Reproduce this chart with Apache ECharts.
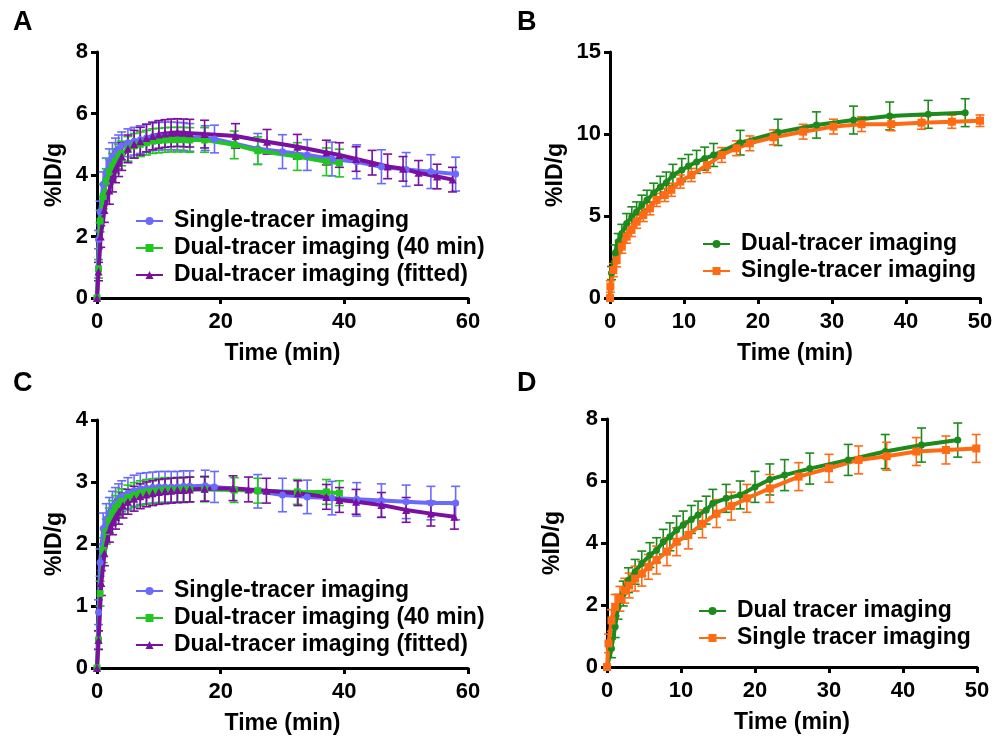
<!DOCTYPE html>
<html>
<head>
<meta charset="utf-8">
<script src="https://cdn.jsdelivr.net/npm/echarts@6/dist/echarts.min.js"></script>
<style>html,body{margin:0;padding:0;background:#fff;}#c{width:1000px;height:737px;}</style>
</head>
<body>
<div id="c"></div>
<script>
// ---------- Panel A ----------
const tA_single = [0, 0.25, 0.5, 1, 1.5, 2, 2.5, 3, 3.5, 4, 5, 6, 7, 8, 9, 10, 11, 12, 13, 14, 15, 17.5, 19, 26, 30, 34, 38, 42, 46, 50, 54, 58];
const yA_single = [0, 1.9, 2.8, 3.7, 4.1, 4.4, 4.6, 4.75, 4.85, 4.95, 5.05, 5.1, 5.15, 5.2, 5.24, 5.26, 5.27, 5.27, 5.26, 5.25, 5.22, 5.2, 5.17, 4.85, 4.76, 4.65, 4.52, 4.43, 4.27, 4.18, 4.11, 4.03];
const eA_single = [0, 0.3, 0.35, 0.4, 0.45, 0.45, 0.45, 0.45, 0.45, 0.45, 0.45, 0.45, 0.45, 0.45, 0.45, 0.45, 0.45, 0.45, 0.45, 0.45, 0.45, 0.4, 0.45, 0.5, 0.55, 0.5, 0.55, 0.55, 0.55, 0.55, 0.55, 0.55];

const tA_dual40 = [0, 0.25, 0.5, 1, 1.5, 2, 2.5, 3, 3.5, 4, 5, 6, 7, 8, 9, 10, 11, 12, 13, 14, 15, 17.4, 22.2, 26, 32.4, 37.1, 39.2];
const yA_dual40 = [0, 0.95, 2.5, 3.3, 3.8, 4.1, 4.3, 4.45, 4.6, 4.7, 4.85, 4.95, 5.0, 5.05, 5.1, 5.12, 5.14, 5.15, 5.15, 5.15, 5.14, 5.14, 4.98, 4.79, 4.6, 4.43, 4.39];
const eA_dual40 = [0, 0.3, 0.35, 0.4, 0.4, 0.4, 0.4, 0.4, 0.4, 0.4, 0.4, 0.4, 0.4, 0.4, 0.4, 0.4, 0.4, 0.4, 0.4, 0.4, 0.4, 0.4, 0.45, 0.45, 0.45, 0.45, 0.45];

const tA_fit = [0, 0.25, 0.6, 1.2, 2, 2.5, 3, 3.5, 4, 5, 6, 7, 8, 9, 10, 11, 12, 13, 14, 15, 17.4, 22.4, 27.5, 32.4, 37.1, 39.2, 41.9, 44.5, 47, 49.5, 52, 55, 57.5];
const yA_fit = [0, 0.86, 2.0, 2.86, 3.5, 3.9, 4.2, 4.4, 4.6, 4.85, 5.0, 5.1, 5.2, 5.27, 5.32, 5.35, 5.37, 5.38, 5.37, 5.36, 5.33, 5.27, 5.08, 4.92, 4.73, 4.65, 4.52, 4.4, 4.28, 4.2, 4.07, 3.95, 3.85];
const eA_fit = [0, 0.3, 0.35, 0.4, 0.45, 0.45, 0.45, 0.45, 0.45, 0.45, 0.45, 0.45, 0.45, 0.45, 0.45, 0.45, 0.45, 0.45, 0.45, 0.45, 0.45, 0.4, 0.4, 0.4, 0.4, 0.4, 0.4, 0.4, 0.4, 0.4, 0.4, 0.4, 0.4];

// ---------- Panel B ----------
const tB_dual = [0, 0.2, 0.7, 1.1, 1.6, 2.25, 2.95, 3.6, 4.3, 5.0, 5.9, 6.8, 7.6, 8.5, 9.7, 10.6, 11.7, 12.8, 14, 17.6, 22.7, 27.9, 32.9, 37.8, 43, 48];
const yB_dual = [0, 1.52, 2.74, 3.43, 3.94, 4.55, 4.96, 5.26, 5.67, 5.97, 6.4, 6.77, 7.03, 7.5, 7.8, 8.05, 8.3, 8.5, 8.72, 9.47, 10.1, 10.55, 10.85, 11.1, 11.2, 11.3];
const eB_dual = [0, 0.4, 0.5, 0.5, 0.55, 0.6, 0.6, 0.6, 0.6, 0.6, 0.6, 0.65, 0.65, 0.65, 0.7, 0.7, 0.7, 0.7, 0.7, 0.75, 0.8, 0.8, 0.85, 0.85, 0.85, 0.85];

const tB_single = [0, 0.05, 0.45, 0.9, 1.6, 2.25, 2.9, 3.6, 4.5, 5.4, 6.3, 7.4, 8.3, 9.5, 11, 13.1, 15.1, 17.1, 18.9, 22.1, 26.1, 30.2, 34, 38, 42.1, 46.2, 50];
const yB_single = [0, 0.7, 1.7, 2.3, 3.13, 3.74, 4.15, 4.65, 5.06, 5.47, 5.98, 6.28, 6.6, 7.1, 7.5, 8.1, 8.72, 9.13, 9.43, 9.8, 10.14, 10.45, 10.6, 10.6, 10.69, 10.75, 10.81];
const eB_single = [0, 0.35, 0.4, 0.4, 0.4, 0.4, 0.4, 0.4, 0.4, 0.4, 0.4, 0.4, 0.4, 0.4, 0.4, 0.45, 0.45, 0.45, 0.45, 0.45, 0.45, 0.45, 0.45, 0.4, 0.4, 0.4, 0.35];

// ---------- Panel C ----------
const tC_single = [0, 0.25, 0.5, 1, 1.5, 2, 2.5, 3, 3.5, 4, 5, 6, 7, 8, 9, 10, 11, 12, 13, 14, 15, 17.5, 19, 26, 30, 34, 38, 42, 46, 50, 54, 58];
const yC_single = [0, 0.9, 1.7, 2.25, 2.4, 2.5, 2.6, 2.66, 2.72, 2.77, 2.82, 2.86, 2.89, 2.9, 2.91, 2.92, 2.92, 2.92, 2.92, 2.93, 2.93, 2.94, 2.92, 2.85, 2.79, 2.76, 2.74, 2.72, 2.7, 2.68, 2.66, 2.66];
const eC_single = [0, 0.2, 0.22, 0.25, 0.25, 0.25, 0.25, 0.25, 0.25, 0.25, 0.25, 0.25, 0.25, 0.25, 0.25, 0.25, 0.25, 0.25, 0.25, 0.25, 0.25, 0.25, 0.25, 0.27, 0.27, 0.27, 0.27, 0.27, 0.27, 0.27, 0.27, 0.27];

const tC_dual40 = [0, 0.25, 0.5, 1, 1.5, 2, 2.5, 3, 3.5, 4, 5, 6, 7, 8, 9, 10, 11, 12, 13, 14, 15, 17.4, 22.2, 26, 32.4, 37.1, 39.2];
const yC_dual40 = [0, 0.45, 1.2, 1.9, 2.2, 2.38, 2.5, 2.58, 2.64, 2.69, 2.75, 2.79, 2.82, 2.84, 2.85, 2.86, 2.87, 2.87, 2.87, 2.88, 2.88, 2.88, 2.87, 2.86, 2.84, 2.84, 2.82];
const eC_dual40 = [0, 0.15, 0.2, 0.2, 0.2, 0.2, 0.2, 0.2, 0.2, 0.2, 0.2, 0.2, 0.2, 0.2, 0.2, 0.2, 0.2, 0.2, 0.2, 0.2, 0.2, 0.2, 0.2, 0.2, 0.2, 0.2, 0.2];

const tC_fit = [0, 0.25, 0.7, 1.2, 2, 2.5, 3, 3.5, 4.2, 5, 6, 7, 8, 9, 10, 11, 12, 13, 14, 15, 17.4, 22, 24.5, 27.4, 32.5, 37.1, 39.2, 41.9, 46, 50, 54, 57.8];
const yC_fit = [0, 0.45, 1.37, 1.85, 2.23, 2.35, 2.44, 2.52, 2.62, 2.68, 2.73, 2.77, 2.8, 2.82, 2.84, 2.85, 2.86, 2.87, 2.87, 2.88, 2.89, 2.9, 2.88, 2.86, 2.82, 2.76, 2.71, 2.68, 2.63, 2.55, 2.49, 2.44];
const eC_fit = [0, 0.15, 0.2, 0.2, 0.2, 0.2, 0.2, 0.2, 0.2, 0.2, 0.2, 0.2, 0.2, 0.2, 0.2, 0.2, 0.2, 0.2, 0.2, 0.2, 0.2, 0.2, 0.2, 0.2, 0.2, 0.2, 0.2, 0.2, 0.2, 0.2, 0.2, 0.2];

// ---------- Panel D ----------
const tD_dual = [0, 0.6, 1.1, 1.5, 2.2, 2.9, 3.8, 4.7, 5.8, 6.7, 7.6, 8.5, 9.4, 10.3, 11.4, 12.3, 13.4, 14.3, 16.1, 18, 20, 22, 24, 27.4, 32.6, 37.6, 42.5, 47.4];
const yD_dual = [0, 0.6, 1.3, 1.94, 2.37, 2.8, 3.07, 3.34, 3.61, 3.77, 4.04, 4.2, 4.42, 4.58, 4.76, 4.9, 5.06, 5.28, 5.44, 5.55, 5.81, 6.05, 6.19, 6.4, 6.68, 6.95, 7.16, 7.32];
const eD_dual = [0, 0.3, 0.35, 0.4, 0.4, 0.4, 0.4, 0.4, 0.4, 0.4, 0.4, 0.45, 0.45, 0.45, 0.45, 0.45, 0.45, 0.45, 0.45, 0.45, 0.5, 0.5, 0.5, 0.5, 0.5, 0.55, 0.55, 0.55];

const tD_single = [0, 0.2, 0.6, 1.1, 1.75, 2.4, 3.0, 3.8, 4.7, 5.6, 6.7, 8.1, 9.4, 11, 12.9, 14.8, 16.8, 18.9, 22, 25.9, 30, 34, 37.8, 41.8, 45.8, 49.9];
const yD_single = [0, 0.76, 1.5, 1.94, 2.2, 2.46, 2.63, 2.85, 3.01, 3.23, 3.45, 3.72, 4.04, 4.26, 4.62, 4.95, 5.19, 5.44, 5.76, 6.14, 6.41, 6.68, 6.8, 6.95, 7.0, 7.05];
const eD_single = [0, 0.3, 0.35, 0.4, 0.4, 0.4, 0.4, 0.4, 0.4, 0.4, 0.45, 0.45, 0.45, 0.45, 0.45, 0.45, 0.45, 0.45, 0.45, 0.45, 0.45, 0.45, 0.45, 0.45, 0.45, 0.45];

// ---------- Tick / label settings ----------
const xTicksAC = {min: 0, max: 60, interval: 20};
const xTicksBD = {min: 0, max: 50, interval: 10};
const yTicksA = {min: 0, max: 8, interval: 2};
const yTicksB = {min: 0, max: 15, interval: 5};
const yTicksC = {min: 0, max: 4, interval: 1};
const yTicksD = {min: 0, max: 8, interval: 2};
const xTitle = 'Time (min)';
const yTitle = '%ID/g';

const FONT = 'Liberation Sans, Arial, sans-serif';
const C_BLUE = '#6a6aff', C_GREEN = '#22c622', C_PURPLE = '#7a0fa0';
const C_DGREEN = '#1d8a1d', C_ORANGE = '#ff6a14';

const grids = [
  {left: 97, top: 52, width: 371, height: 246},
  {left: 610, top: 52, width: 370, height: 246},
  {left: 97, top: 420, width: 371, height: 248},
  {left: 607, top: 419, width: 370, height: 248}
];

function axisCommon() {
  return {
    axisLine: {show: true, onZero: false, lineStyle: {color: '#000', width: 3}},
    axisTick: {show: true, length: 6, lineStyle: {color: '#000', width: 3}},
    splitLine: {show: false},
    nameTextStyle: {fontFamily: FONT, fontWeight: 'bold', fontSize: 23, color: '#000'}
  };
}
function xAxis(gi, ticks) {
  return Object.assign(axisCommon(), {
    type: 'value', gridIndex: gi, min: ticks.min, max: ticks.max, interval: ticks.interval,
    name: xTitle, nameLocation: 'middle', nameGap: 44,
    axisLabel: {fontFamily: FONT, fontWeight: 'bold', fontSize: 22, color: '#000', margin: 13}
  });
}
function yAxis(gi, ticks, gap) {
  return Object.assign(axisCommon(), {
    type: 'value', gridIndex: gi, min: ticks.min, max: ticks.max, interval: ticks.interval,
    name: yTitle, nameLocation: 'middle', nameGap: gap, nameRotate: 90,
    axisLabel: {fontFamily: FONT, fontWeight: 'bold', fontSize: 22, color: '#000', margin: 9}
  });
}

function zip3(t, y, e) { return t.map((v, i) => [v, y[i], e[i] || 0]); }

function lineSeries(name, gi, t, y, color, symbol, size) {
  return {
    type: 'line', name: name, xAxisIndex: gi, yAxisIndex: gi,
    data: t.map((v, i) => [v, y[i]]),
    symbol: symbol, symbolSize: size, showSymbol: true, clip: false,
    lineStyle: {color: color, width: 4},
    itemStyle: {color: color},
    emphasis: {disabled: true}, z: 3
  };
}
function errSeries(gi, t, y, e, color) {
  return {
    type: 'custom', xAxisIndex: gi, yAxisIndex: gi, z: 2, clip: false,
    data: zip3(t, y, e),
    encode: {x: 0, y: 1},
    silent: true,
    renderItem: function (params, api) {
      const x = api.value(0), v = api.value(1), er = api.value(2);
      if (!er) return {type: 'group', children: []};
      const top = api.coord([x, v + er]);
      const bot = api.coord([x, v - er]);
      const h = 4.5;
      const st = {stroke: color, lineWidth: 1.6};
      return {type: 'group', children: [
        {type: 'line', shape: {x1: top[0], y1: top[1], x2: bot[0], y2: bot[1]}, style: st},
        {type: 'line', shape: {x1: top[0] - h, y1: top[1], x2: top[0] + h, y2: top[1]}, style: st},
        {type: 'line', shape: {x1: bot[0] - h, y1: bot[1], x2: bot[0] + h, y2: bot[1]}, style: st}
      ]};
    }
  };
}

function legend(left, top, names) {
  return {
    orient: 'vertical', left: left, top: top, itemWidth: 27, itemHeight: 10, itemGap: 1,
    selectedMode: false, data: names,
    formatter: function (n) { return n.split('|')[1]; },
    textStyle: {fontFamily: FONT, fontWeight: 'bold', fontSize: 23, color: '#000', lineHeight: 26, padding: [0, 0, 0, 6]}
  };
}

const option = {
  animation: false,
  backgroundColor: '#fff',
  grid: grids,
  xAxis: [xAxis(0, xTicksAC), xAxis(1, xTicksBD), xAxis(2, xTicksAC), xAxis(3, xTicksBD)],
  yAxis: [yAxis(0, yTicksA, 31), yAxis(1, yTicksB, 43), yAxis(2, yTicksC, 31), yAxis(3, yTicksD, 43)],
  legend: [
    legend(130, 203, ['A|Single-tracer imaging', 'A|Dual-tracer imaging (40 min)', 'A|Dual-tracer imaging (fitted)']),
    legend(697, 226, ['B|Dual-tracer imaging', 'B|Single-tracer imaging']),
    legend(130, 573, ['C|Single-tracer imaging', 'C|Dual-tracer imaging (40 min)', 'C|Dual-tracer imaging (fitted)']),
    legend(693, 593, ['D|Dual tracer imaging', 'D|Single tracer imaging'])
  ],
  graphic: [
    {type: 'text', left: 13, top: 9, style: {text: 'A', font: 'bold 27px ' + FONT, fill: '#000'}},
    {type: 'text', left: 517, top: 9, style: {text: 'B', font: 'bold 27px ' + FONT, fill: '#000'}},
    {type: 'text', left: 13, top: 370, style: {text: 'C', font: 'bold 27px ' + FONT, fill: '#000'}},
    {type: 'text', left: 517, top: 370, style: {text: 'D', font: 'bold 27px ' + FONT, fill: '#000'}}
  ],
  series: [
    errSeries(0, tA_single, yA_single, eA_single, C_BLUE),
    errSeries(0, tA_dual40, yA_dual40, eA_dual40, C_GREEN),
    errSeries(0, tA_fit, yA_fit, eA_fit, C_PURPLE),
    lineSeries('A|Single-tracer imaging', 0, tA_single, yA_single, C_BLUE, 'circle', 7),
    lineSeries('A|Dual-tracer imaging (40 min)', 0, tA_dual40, yA_dual40, C_GREEN, 'rect', 7),
    lineSeries('A|Dual-tracer imaging (fitted)', 0, tA_fit, yA_fit, C_PURPLE, 'triangle', 8),

    errSeries(1, tB_dual, yB_dual, eB_dual, C_DGREEN),
    errSeries(1, tB_single, yB_single, eB_single, C_ORANGE),
    lineSeries('B|Dual-tracer imaging', 1, tB_dual, yB_dual, C_DGREEN, 'circle', 7),
    lineSeries('B|Single-tracer imaging', 1, tB_single, yB_single, C_ORANGE, 'rect', 8),

    errSeries(2, tC_single, yC_single, eC_single, C_BLUE),
    errSeries(2, tC_dual40, yC_dual40, eC_dual40, C_GREEN),
    errSeries(2, tC_fit, yC_fit, eC_fit, C_PURPLE),
    lineSeries('C|Single-tracer imaging', 2, tC_single, yC_single, C_BLUE, 'circle', 7),
    lineSeries('C|Dual-tracer imaging (40 min)', 2, tC_dual40, yC_dual40, C_GREEN, 'rect', 7),
    lineSeries('C|Dual-tracer imaging (fitted)', 2, tC_fit, yC_fit, C_PURPLE, 'triangle', 8),

    errSeries(3, tD_dual, yD_dual, eD_dual, C_DGREEN),
    errSeries(3, tD_single, yD_single, eD_single, C_ORANGE),
    lineSeries('D|Dual tracer imaging', 3, tD_dual, yD_dual, C_DGREEN, 'circle', 7),
    lineSeries('D|Single tracer imaging', 3, tD_single, yD_single, C_ORANGE, 'rect', 8)
  ]
};

const chart = echarts.init(document.getElementById('c'), null, {renderer: 'canvas'});
chart.setOption(option);
</script>
</body>
</html>
